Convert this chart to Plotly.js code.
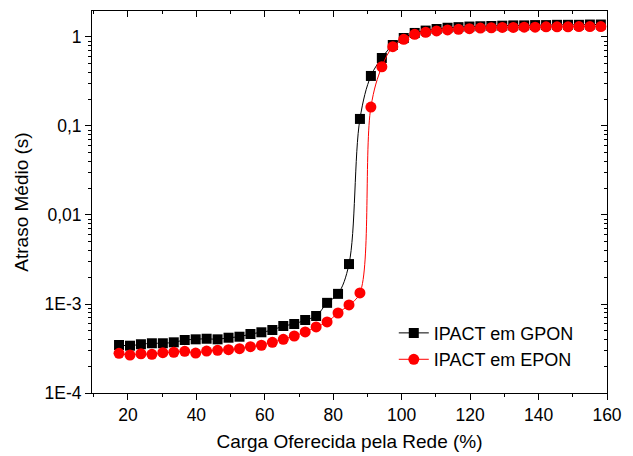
<!DOCTYPE html>
<html>
<head>
<meta charset="utf-8">
<script src="https://cdn.plot.ly/plotly-3.0.1.min.js"></script>
<style>html,body{margin:0;padding:0;background:#fff;}#chart{width:633px;height:456px;}</style>
</head>
<body>
<div id="chart"></div>
<script>
const carga = [17.4, 20.6, 23.8, 27.0, 30.2, 33.4, 36.6, 39.8, 43.0, 46.2, 49.4, 52.6, 55.8, 59.0, 62.2,
  65.4, 68.6, 71.8, 75.0, 78.2, 81.4, 84.6, 87.8, 91.0, 94.2, 97.4, 100.6, 103.8, 107.0, 110.2,
  113.4, 116.6, 119.8, 123.0, 126.2, 129.4, 132.6, 135.8, 139.0, 142.2, 145.4, 148.6, 151.8, 155.0, 158.2];
const atrasoGPON = [3.46e-4, 3.40e-4, 3.53e-4, 3.62e-4, 3.62e-4, 3.71e-4, 3.94e-4, 4.01e-4, 4.07e-4, 4.01e-4,
  4.18e-4, 4.29e-4, 4.60e-4, 4.81e-4, 5.10e-4, 5.66e-4, 5.96e-4, 6.61e-4, 7.33e-4, 1.03e-3,
  1.30e-3, 2.81e-3, 0.120, 0.365, 0.581, 0.813, 0.975, 1.11, 1.18, 1.23,
  1.27, 1.29, 1.31, 1.32, 1.33, 1.34, 1.35, 1.35, 1.36, 1.36, 1.37, 1.37, 1.37, 1.38, 1.38];
const atrasoEPON = [2.79e-4, 2.67e-4, 2.76e-4, 2.72e-4, 2.84e-4, 2.87e-4, 2.94e-4, 2.81e-4, 2.96e-4, 3.02e-4,
  3.07e-4, 3.15e-4, 3.31e-4, 3.44e-4, 3.71e-4, 4.01e-4, 4.37e-4, 4.85e-4, 5.52e-4, 6.28e-4,
  7.92e-4, 9.75e-4, 1.33e-3, 0.163, 0.463, 0.778, 0.942, 1.07, 1.13, 1.17,
  1.20, 1.22, 1.24, 1.26, 1.27, 1.28, 1.28, 1.29, 1.29, 1.30, 1.30, 1.30, 1.31, 1.31, 1.31];
const serieNomes = ['IPACT em GPON', 'IPACT em EPON'];
const xTicks = [20, 40, 60, 80, 100, 120, 140, 160];
const yTickVals = [1e-4, 1e-3, 0.01, 0.1, 1];
const yTickText = ['1E-4', '1E-3', '0,01', '0,1', '1'];

const FONT = 'Arial, "Liberation Sans", sans-serif';
const xRange = [9.5, 160];
const yRange = [-4, 0.292];

const traces = [
  {x: carga, y: atrasoGPON, name: serieNomes[0], type: 'scatter', mode: 'lines+markers',
   line: {color: '#000000', width: 1, shape: 'spline'},
   marker: {symbol: 'square', size: 10, color: '#000000'}},
  {x: carga, y: atrasoEPON, name: serieNomes[1], type: 'scatter', mode: 'lines+markers',
   line: {color: '#ff0000', width: 1, shape: 'spline'},
   marker: {symbol: 'circle', size: 11, color: '#ff0000'}},
  {x: carga, y: atrasoEPON, xaxis: 'x2', yaxis: 'y2', type: 'scatter', mode: 'markers',
   marker: {opacity: 0}, showlegend: false, hoverinfo: 'skip'}
];

const layout = {
  width: 633, height: 456,
  margin: {l: 92, r: 26, t: 11, b: 63},
  paper_bgcolor: '#ffffff', plot_bgcolor: '#ffffff',
  font: {family: FONT, color: '#000000', size: 17},
  showlegend: true,
  legend: {x: 0.586, y: 0.205, xanchor: 'left', yanchor: 'top', bgcolor: 'rgba(0,0,0,0)',
           font: {family: FONT, size: 18, color: '#000'}, tracegroupgap: 0},
  xaxis: {range: xRange, tickmode: 'array', tickvals: xTicks, ticks: 'outside', ticklen: 6, tickwidth: 1,
          tickcolor: '#000', showline: true, linecolor: '#000', linewidth: 1, showgrid: false, zeroline: false,
          tickfont: {family: FONT, size: 17.5},
          minor: {dtick: 10, tick0: 0, ticks: 'outside', ticklen: 3, tickcolor: '#000', showgrid: false},
          title: {text: 'Carga Oferecida pela Rede (%)', font: {family: FONT, size: 19}, standoff: 10}},
  yaxis: {type: 'log', range: yRange, tickmode: 'array', tickvals: yTickVals, ticktext: yTickText,
          ticks: 'outside', ticklen: 6, tickwidth: 1, tickcolor: '#000', showline: true, linecolor: '#000',
          linewidth: 1, showgrid: false, zeroline: false, tickfont: {family: FONT, size: 17.5},
          minor: {dtick: 'D1', ticks: 'outside', ticklen: 3, tickcolor: '#000', showgrid: false},
          title: {text: 'Atraso Médio (s)', font: {family: FONT, size: 19}, standoff: 10}},
  xaxis2: {overlaying: 'x', side: 'top', anchor: 'y2', range: xRange, tickmode: 'array', tickvals: xTicks,
           ticks: 'inside', ticklen: 6, tickcolor: '#000', showline: true, linecolor: '#000', linewidth: 1,
           showticklabels: false, showgrid: false, zeroline: false,
           minor: {dtick: 10, tick0: 0, ticks: 'inside', ticklen: 3, tickcolor: '#000', showgrid: false}},
  yaxis2: {overlaying: 'y', side: 'right', anchor: 'x2', type: 'log', range: yRange, tickmode: 'array',
           tickvals: yTickVals, ticks: 'inside', ticklen: 6, tickcolor: '#000', showline: true, linecolor: '#000',
           linewidth: 1, showticklabels: false, showgrid: false, zeroline: false,
           minor: {dtick: 'D1', ticks: 'inside', ticklen: 3, tickcolor: '#000', showgrid: false}}
};

Plotly.newPlot('chart', traces, layout, {displayModeBar: false, staticPlot: true});
</script>
</body>
</html>
